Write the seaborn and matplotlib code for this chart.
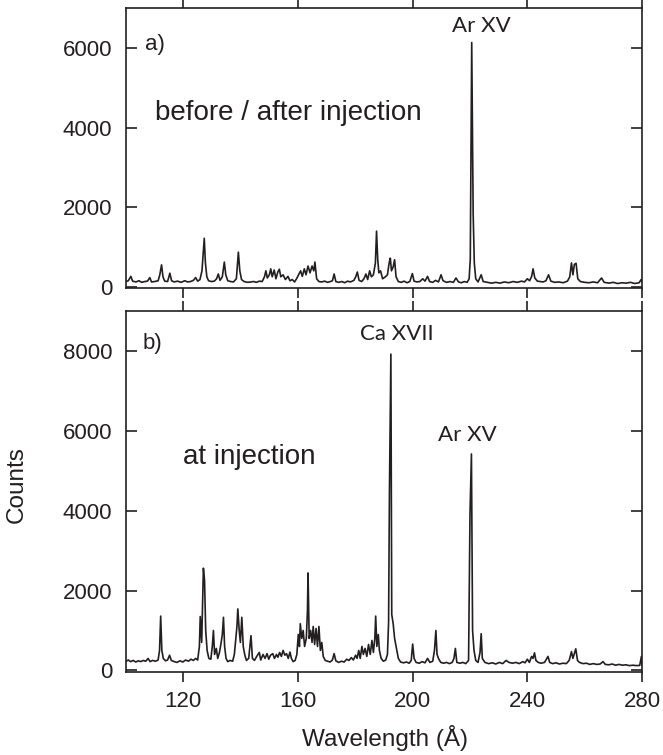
import matplotlib
matplotlib.use("Agg")
import matplotlib.pyplot as plt
import seaborn as sns
import pandas as pd

# ---------------- data ----------------
wl_a = [100.0, 100.8, 101.7, 102.3, 103.5, 104.5, 105.5, 106.5, 107.5, 108.3, 108.9, 110.0, 111.2, 111.8, 112.4,
        112.9, 113.5, 114.5, 115.3, 115.9, 116.8, 118.0, 119.2, 120.5, 121.5, 122.5, 123.5, 124.3, 125.0, 125.8,
        126.5, 127.0, 127.3, 127.7, 128.2, 128.8, 129.8, 130.8, 131.6, 132.2, 132.8, 133.6, 134.3, 134.8, 135.5,
        136.5, 137.5, 138.5, 139.2, 139.7, 140.3, 141.2, 142.5, 143.5, 144.5, 145.5, 146.5, 147.5, 148.3, 148.8,
        149.3, 150.0, 150.5, 151.0, 151.7, 152.3, 153.0, 153.5, 154.0, 154.8, 155.6, 156.5, 157.2, 158.0, 158.8,
        159.5, 160.2, 160.9, 161.5, 162.2, 162.8, 163.5, 164.2, 164.9, 165.5, 165.9, 166.5, 167.3, 168.3, 169.3,
        170.3, 171.3, 172.0, 172.6, 173.2, 174.2, 175.3, 176.3, 177.3, 178.3, 179.5, 180.2, 180.7, 181.3, 182.2,
        183.0, 183.7, 184.3, 185.0, 185.6, 186.3, 187.0, 187.4, 187.8, 188.2, 188.8, 189.5, 190.5, 191.2, 191.8,
        192.2, 192.6, 193.2, 193.7, 194.2, 195.0, 196.0, 197.0, 198.0, 199.0, 199.9, 200.5, 201.5, 202.5, 203.5,
        204.3, 205.2, 205.9, 207.0, 208.0, 209.0, 209.9, 210.6, 211.8, 213.0, 214.2, 215.1, 216.0, 217.0, 218.0,
        219.0, 219.7, 220.1, 220.6, 221.1, 221.5, 222.0, 222.8, 223.9, 224.6, 226.0, 227.5, 229.0, 230.5, 232.0,
        233.5, 235.0, 236.5, 238.0, 239.0, 240.0, 240.8, 241.5, 242.0, 242.6, 243.5, 244.5, 245.5, 246.5, 247.4,
        248.2, 249.5, 251.0, 252.5, 254.0, 254.8, 255.4, 255.9, 256.4, 257.0, 257.6, 258.5, 260.0, 261.5, 263.0,
        264.5, 265.9, 266.8, 268.5, 270.0, 271.5, 273.0, 274.5, 276.0, 277.5, 279.0, 279.7, 280.0]
counts_a = [130, 150, 260, 140, 120, 150, 110, 130, 140, 230, 120, 130, 150, 300, 550,
            250, 140, 130, 340, 150, 120, 140, 110, 150, 120, 130, 160, 230, 140, 180,
            400, 900, 1220, 600, 250, 150, 130, 140, 200, 320, 160, 250, 620, 300, 150,
            130, 120, 200, 870, 400, 180, 130, 110, 120, 130, 110, 140, 130, 250, 400,
            220, 300, 450, 250, 420, 200, 380, 440, 250, 300, 180, 260, 150, 180, 120,
            200, 300, 400, 260, 450, 300, 520, 350, 520, 400, 620, 200, 130, 120, 140,
            110, 130, 150, 320, 130, 110, 130, 100, 140, 120, 160, 260, 370, 160, 130,
            200, 320, 180, 400, 250, 300, 600, 1400, 700, 350, 400, 200, 250, 300, 600,
            720, 400, 500, 680, 250, 130, 110, 140, 100, 130, 330, 140, 120, 130, 200,
            140, 260, 130, 110, 160, 120, 300, 150, 110, 130, 110, 220, 120, 100, 130,
            110, 200, 700, 6150, 1850, 600, 200, 120, 300, 130, 110, 90, 110, 90, 120,
            100, 130, 110, 140, 120, 200, 150, 260, 450, 220, 140, 130, 120, 150, 300,
            140, 110, 120, 100, 140, 250, 600, 300, 560, 590, 200, 130, 110, 100, 120,
            100, 220, 110, 90, 110, 80, 100, 90, 110, 80, 100, 180, 120]

wl_b = [100.0, 100.8, 101.6, 102.5, 103.4, 104.3, 105.2, 106.0, 106.9, 107.7, 108.4, 109.3, 110.3, 111.2, 111.7,
        112.1, 112.5, 113.0, 113.8, 114.5, 115.2, 115.8, 116.8, 117.8, 118.8, 119.8, 120.8, 121.8, 122.6, 123.5,
        124.3, 125.0, 125.6, 125.9, 126.4, 127.0, 127.4, 127.8, 128.3, 128.9, 129.6, 130.1, 130.5, 130.9, 131.5,
        132.0, 132.6, 133.2, 133.6, 134.0, 134.4, 134.9, 135.5, 136.3, 137.2, 137.8, 138.3, 138.7, 139.0, 139.5,
        139.9, 140.4, 140.9, 141.4, 142.0, 142.8, 143.6, 144.1, 144.8, 145.6, 146.5, 147.0, 147.8, 148.5, 149.2,
        149.8, 150.4, 151.2, 151.8, 152.5, 153.0, 153.6, 154.2, 154.8, 155.4, 156.0, 156.6, 157.2, 157.7, 158.3,
        159.0, 159.6, 160.1, 160.5, 160.8, 161.3, 161.8, 162.3, 162.9, 163.3, 163.5, 163.9, 164.4, 164.9, 165.3,
        165.8, 166.3, 166.8, 167.3, 167.8, 168.3, 168.8, 169.5, 170.3, 171.2, 172.0, 172.6, 173.2, 174.2, 175.2,
        176.1, 177.0, 177.8, 178.6, 179.3, 180.1, 180.6, 181.2, 181.7, 182.3, 182.8, 183.4, 184.0, 184.6, 185.2,
        185.8, 186.3, 186.8, 187.1, 187.5, 188.0, 188.4, 189.0, 189.8, 190.6, 191.2, 191.6, 191.9, 192.4, 192.7,
        193.2, 193.7, 194.3, 195.0, 195.8, 196.8, 197.8, 198.8, 199.5, 200.0, 200.5, 201.2, 202.3, 203.3, 204.3,
        205.2, 206.0, 207.0, 207.6, 208.1, 208.5, 209.0, 209.8, 210.8, 211.8, 212.8, 213.8, 214.4, 214.9, 215.4,
        216.5, 217.5, 218.5, 219.5, 220.0, 220.5, 220.9, 221.4, 222.0, 222.8, 223.5, 223.9, 224.3, 225.2, 226.5,
        227.8, 229.0, 230.2, 231.4, 232.6, 233.6, 234.8, 236.0, 237.2, 238.4, 239.2, 240.0, 240.7, 241.5, 242.0,
        242.5, 243.0, 243.8, 244.8, 246.0, 247.2, 247.8, 248.8, 250.0, 251.2, 252.4, 253.6, 254.6, 255.4, 255.9,
        256.4, 256.9, 257.5, 258.2, 259.4, 260.6, 261.8, 263.0, 264.2, 265.4, 266.4, 267.2, 268.4, 269.6, 270.8,
        272.0, 273.2, 274.4, 275.6, 276.8, 278.0, 279.2, 279.8, 280.0]
counts_b = [230, 260, 220, 250, 210, 240, 220, 250, 230, 300, 220, 250, 230, 260, 500,
            1360, 500, 300, 240, 260, 380, 250, 220, 200, 240, 210, 260, 230, 280, 250,
            300, 260, 600, 1350, 700, 2560, 2250, 1000, 500, 300, 280, 600, 1000, 400, 550,
            300, 450, 700, 900, 1330, 600, 300, 220, 250, 230, 400, 800, 1100, 1540, 1000,
            700, 1330, 600, 400, 250, 300, 870, 300, 250, 350, 450, 260, 400, 300, 420,
            280, 380, 420, 300, 400, 330, 450, 350, 500, 380, 420, 300, 460, 300, 220,
            250, 400, 900, 600, 1170, 800, 1000, 600, 800, 1500, 2440, 800, 1000, 700, 1100,
            650, 1050, 600, 1100, 500, 700, 350, 250, 230, 210, 260, 420, 240, 200, 230,
            210, 280, 250, 320, 260, 380, 300, 500, 300, 600, 400, 550, 350, 650, 400,
            750, 450, 800, 1360, 600, 900, 500, 300, 230, 260, 400, 1200, 4500, 7920, 1400,
            1170, 800, 570, 300, 210, 190, 210, 180, 250, 660, 300, 200, 180, 220, 190,
            300, 200, 230, 500, 1000, 400, 300, 200, 180, 200, 170, 200, 300, 550, 200,
            180, 200, 170, 250, 3920, 5420, 1000, 500, 250, 200, 450, 920, 300, 200, 170,
            190, 160, 200, 170, 250, 200, 180, 200, 170, 220, 190, 280, 200, 350, 300,
            440, 250, 200, 180, 200, 350, 200, 170, 190, 160, 180, 170, 250, 470, 300,
            420, 540, 250, 200, 170, 180, 150, 170, 150, 160, 220, 150, 140, 160, 130,
            150, 130, 140, 120, 130, 120, 125, 350, 130]

x_ticks = [120, 160, 200, 240, 280]
y_ticks_a = [0, 2000, 4000, 6000]
y_ticks_b = [0, 2000, 4000, 6000, 8000]
panel_labels = ["a)", "b)"]
condition_labels = ["before / after injection", "at injection"]

# ---------------- style ----------------
sns.set_theme(style="ticks")
plt.rcParams["font.family"] = ["Liberation Sans", "DejaVu Sans"]
plt.rcParams["axes.linewidth"] = 1.2
plt.rcParams["axes.edgecolor"] = "#231f20"
ink = "#231f20"

fig = plt.figure(figsize=(6.63, 7.55), dpi=100)
ax_a = fig.add_axes([126 / 663, 1 - 287.5 / 755, 516 / 663, 279.5 / 755])
ax_b = fig.add_axes([126 / 663, 1 - 672 / 755, 516 / 663, 361 / 755])

df_a = pd.DataFrame({"wl": wl_a, "counts": counts_a})
df_b = pd.DataFrame({"wl": wl_b, "counts": counts_b})

sns.lineplot(data=df_a, x="wl", y="counts", ax=ax_a, color=ink, linewidth=1.2, sort=False)
sns.lineplot(data=df_b, x="wl", y="counts", ax=ax_b, color=ink, linewidth=1.2, sort=False)

for ax, yt, ylim in [(ax_a, y_ticks_a, (-20, 7020)), (ax_b, y_ticks_b, (-40, 9000))]:
    ax.set_xlim(100, 280)
    ax.set_ylim(*ylim)
    ax.set_xticks(x_ticks)
    ax.set_yticks(yt)
    ax.set_xlabel("")
    ax.set_ylabel("")
    for s in ax.spines.values():
        s.set_visible(True)
        s.set_color(ink)
        s.set_linewidth(1.2)
    ax.tick_params(axis="x", direction="out", length=7, width=1.2, top=True, bottom=True,
                   labelsize=16, pad=7, colors=ink)
    ax.tick_params(axis="y", direction="in", length=8, width=1.2, left=True, right=True,
                   labelsize=16, pad=10, colors=ink)
    ax.tick_params(labelcolor="#231f20")

ax_a.tick_params(axis="x", labelbottom=False)

# panel texts
ax_a.text(0.037, 0.869, panel_labels[0], transform=ax_a.transAxes, fontsize=16, va="center", ha="left", color=ink)
ax_b.text(0.033, 0.91, panel_labels[1], transform=ax_b.transAxes, fontsize=16, va="center", ha="left", color=ink)
ax_a.text(0.056, 0.625, condition_labels[0], transform=ax_a.transAxes, fontsize=20, va="center", ha="left", color=ink)
ax_b.text(0.11, 0.596, condition_labels[1], transform=ax_b.transAxes, fontsize=20, va="center", ha="left", color=ink)

line_font = ["Lato", "DejaVu Sans"]
ax_a.text(0.688, 0.934, "Ar XV", transform=ax_a.transAxes, fontsize=16, va="center", ha="center",
          color=ink, family=line_font)
ax_b.text(0.525, 0.935, "Ca XVII", transform=ax_b.transAxes, fontsize=16, va="center", ha="center",
          color=ink, family=line_font)
ax_b.text(0.662, 0.656, "Ar XV", transform=ax_b.transAxes, fontsize=16, va="center", ha="center",
          color=ink, family=line_font)

fig.text(17 / 663, 1 - 484.5 / 755, "Counts", rotation=90, fontsize=17.5, va="center", ha="center", color=ink)
fig.text(384.5 / 663, 1 - 738 / 755, "Wavelength (Å)", fontsize=17.5, va="center", ha="center", color=ink)

fig.savefig("out.png", dpi=100)
